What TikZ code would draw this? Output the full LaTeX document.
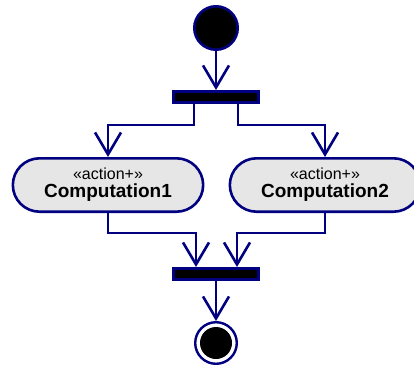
\documentclass[tikz,border=0pt]{standalone}
\usepackage{fontspec}
\setmainfont{Liberation Sans}
\usetikzlibrary{arrows.meta,shapes.misc,positioning}

\definecolor{umlblue}{RGB}{0,0,128}
\definecolor{actfill}{RGB}{230,230,230}

\newcommand{\stereo}[1]{{\fontsize{16pt}{18pt}\selectfont «#1»}}

\begin{document}
\begin{tikzpicture}[x=1pt,y=1pt,
    startnode/.style={circle,draw=umlblue,line width=2.6pt,fill=black,
        minimum size=43.4pt,inner sep=0pt},
    finalnode/.style={circle,draw=umlblue,line width=2.4pt,minimum size=41.6pt,
        inner sep=0pt,
        path picture={\fill[black] (path picture bounding box.center) circle (16pt);}},
    syncbar/.style={rectangle,draw=umlblue,line width=2.6pt,fill=black,
        minimum width=85.4pt,minimum height=11.4pt,inner sep=0pt},
    actionbox/.style={rounded rectangle,draw=umlblue,line width=2.6pt,fill=actfill,
        minimum width=197pt,minimum height=53.4pt,align=center,
        font=\fontsize{19pt}{18pt}\selectfont},
    flow/.style={draw=umlblue,line width=2.6pt,->},
    >={Straight Barb[length=22pt,width=26pt]},
    ]
\clip (0,0) rectangle (414,-366);

\node[startnode] (start) at (216,-28) {};
\node[syncbar]   (fork)  at (216,-97) {};
\node[actionbox] (comp1) at (108,-185) {\stereo{action+}\\\textbf{Computation1}};
\node[actionbox] (comp2) at (325,-185) {\stereo{action+}\\\textbf{Computation2}};
\node[syncbar]   (join)  at (216,-274) {};
\node[finalnode] (final) at (216,-343) {};

\draw[flow] (start) -- (fork);
\draw[flow] ([xshift=-22pt]fork.south) -- ++(0,-21) -| (comp1);
\draw[flow] ([xshift=22pt]fork.south) -- ++(0,-21) -| (comp2);
\draw[flow] (comp1.south) -- ++(0,-20) -| ([xshift=-20pt]join.north);
\draw[flow] (comp2.south) -- ++(0,-20) -| ([xshift=21pt]join.north);
\draw[flow] (join) -- (final);
\end{tikzpicture}
\end{document}
